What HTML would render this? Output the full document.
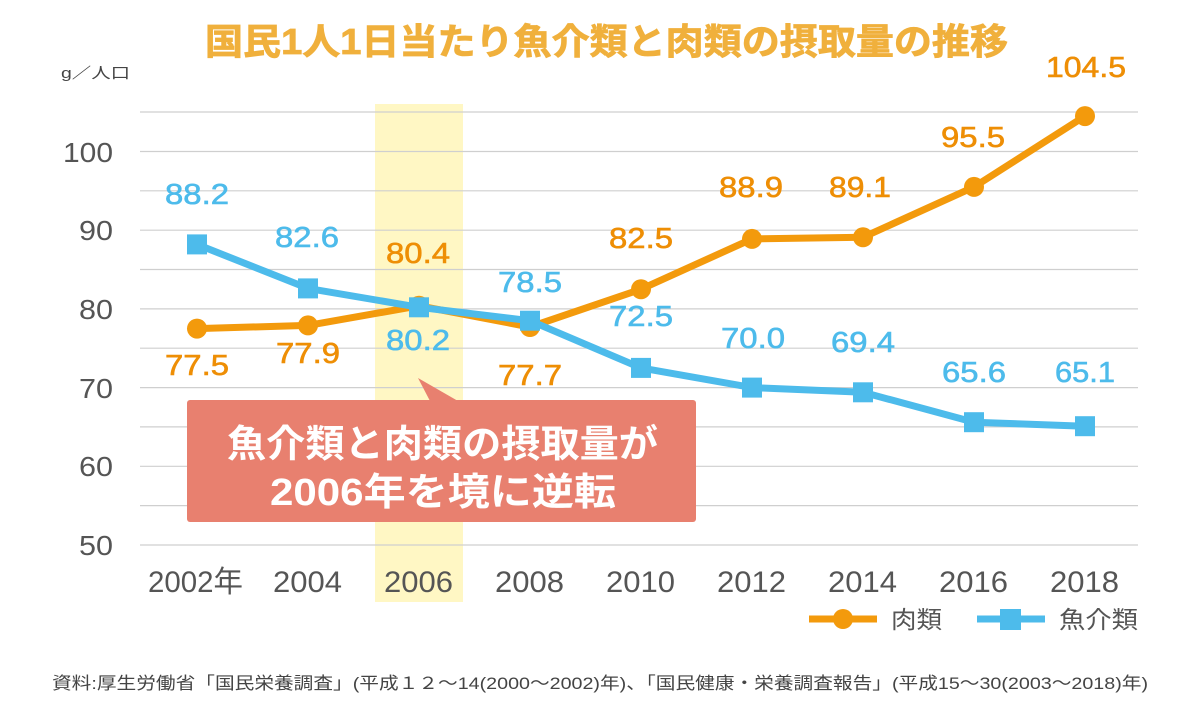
<!DOCTYPE html>
<html><head><meta charset="utf-8"><style>
html,body{margin:0;padding:0;background:#fff;}
svg{display:block;}
text{font-family:"Liberation Sans","Noto Sans CJK JP",sans-serif;}
</style></head><body>
<svg width="1200" height="720" viewBox="0 0 1200 720" xmlns="http://www.w3.org/2000/svg">
<rect x="0" y="0" width="1200" height="720" fill="#fff"/>
<!-- highlight -->
<rect x="375" y="104" width="88" height="498" fill="#FFF7C4"/>
<!-- gridlines -->
<g stroke="#cfcfcf" stroke-width="1.2">
<line x1="140" x2="1138" y1="112.0" y2="112.0"/>
<line x1="140" x2="1138" y1="151.5" y2="151.5"/>
<line x1="140" x2="1138" y1="190.8" y2="190.8"/>
<line x1="140" x2="1138" y1="230.2" y2="230.2"/>
<line x1="140" x2="1138" y1="269.5" y2="269.5"/>
<line x1="140" x2="1138" y1="308.9" y2="308.9"/>
<line x1="140" x2="1138" y1="348.2" y2="348.2"/>
<line x1="140" x2="1138" y1="387.6" y2="387.6"/>
<line x1="140" x2="1138" y1="426.9" y2="426.9"/>
<line x1="140" x2="1138" y1="466.3" y2="466.3"/>
<line x1="140" x2="1138" y1="505.6" y2="505.6"/>
<line x1="140" x2="1138" y1="545.0" y2="545.0"/>
</g>
<!-- title -->
<text x="205" y="54" font-size="36" font-weight="bold" fill="#F0B03C" stroke="#F0B03C" stroke-width="0.8" textLength="803" lengthAdjust="spacingAndGlyphs">国民1人1日当たり魚介類と肉類の摂取量の推移</text>
<text x="61" y="78" font-size="15" fill="#444" textLength="69" lengthAdjust="spacingAndGlyphs">g／人口</text>
<!-- y axis labels -->
<g font-size="28" fill="#555" text-anchor="end">
<text x="113" y="162" textLength="50" lengthAdjust="spacingAndGlyphs">100</text>
<text x="113" y="240" textLength="34" lengthAdjust="spacingAndGlyphs">90</text>
<text x="113" y="319" textLength="34" lengthAdjust="spacingAndGlyphs">80</text>
<text x="113" y="398" textLength="34" lengthAdjust="spacingAndGlyphs">70</text>
<text x="113" y="476" textLength="34" lengthAdjust="spacingAndGlyphs">60</text>
<text x="113" y="555" textLength="34" lengthAdjust="spacingAndGlyphs">50</text>
</g>
<!-- x axis labels -->
<g font-size="30" fill="#555">
<text x="148" y="592" textLength="95" lengthAdjust="spacingAndGlyphs">2002年</text>
<text x="273" y="592" textLength="69" lengthAdjust="spacingAndGlyphs">2004</text>
<text x="384" y="592" textLength="69" lengthAdjust="spacingAndGlyphs">2006</text>
<text x="495" y="592" textLength="69" lengthAdjust="spacingAndGlyphs">2008</text>
<text x="606" y="592" textLength="69" lengthAdjust="spacingAndGlyphs">2010</text>
<text x="717" y="592" textLength="69" lengthAdjust="spacingAndGlyphs">2012</text>
<text x="828" y="592" textLength="69" lengthAdjust="spacingAndGlyphs">2014</text>
<text x="939" y="592" textLength="69" lengthAdjust="spacingAndGlyphs">2016</text>
<text x="1050" y="592" textLength="69" lengthAdjust="spacingAndGlyphs">2018</text>
</g>
<!-- callout -->
<polygon points="418,378 430,401 458,401" fill="#E8806F"/>
<rect x="187" y="400" width="509" height="122" rx="3" fill="#E8806F"/>
<text x="227" y="457" font-size="38" font-weight="bold" fill="#fff" textLength="431" lengthAdjust="spacingAndGlyphs">魚介類と肉類の摂取量が</text>
<text x="270" y="505" font-size="38" font-weight="bold" fill="#fff" textLength="346" lengthAdjust="spacingAndGlyphs">2006年を境に逆転</text>
<!-- meat series -->
<polyline fill="none" stroke="#F39A0C" stroke-width="7" stroke-linejoin="round" points="197,328.6 308,325.4 419,305.8 530,327.0 641,289.2 752,238.9 863,237.3 974,186.9 1085,116.1"/>
<g fill="#F39A0C">
<circle cx="197" cy="328.6" r="10"/>
<circle cx="308" cy="325.4" r="10"/>
<circle cx="419" cy="305.8" r="10"/>
<circle cx="530" cy="327.0" r="10"/>
<circle cx="641" cy="289.2" r="10"/>
<circle cx="752" cy="238.9" r="10"/>
<circle cx="863" cy="237.3" r="10"/>
<circle cx="974" cy="186.9" r="10"/>
<circle cx="1085" cy="116.1" r="10"/>
</g>
<!-- fish series -->
<polyline fill="none" stroke="#4DBBEB" stroke-width="7" stroke-linejoin="round" points="197,244.4 308,288.4 419,307.3 530,320.7 641,367.9 752,387.6 863,392.3 974,422.2 1085,426.2"/>
<g fill="#4DBBEB">
<rect x="187" y="234.4" width="20" height="20"/>
<rect x="298" y="278.4" width="20" height="20"/>
<rect x="409" y="297.3" width="20" height="20"/>
<rect x="520" y="310.7" width="20" height="20"/>
<rect x="631" y="357.9" width="20" height="20"/>
<rect x="742" y="377.6" width="20" height="20"/>
<rect x="853" y="382.3" width="20" height="20"/>
<rect x="964" y="412.2" width="20" height="20"/>
<rect x="1075" y="416.2" width="20" height="20"/>
</g>
<!-- meat labels -->
<g font-size="29" fill="#EE8E05" stroke="#EE8E05" stroke-width="0.6" text-anchor="middle">
<text x="197" y="375" textLength="64" lengthAdjust="spacingAndGlyphs">77.5</text>
<text x="308" y="363" textLength="64" lengthAdjust="spacingAndGlyphs">77.9</text>
<text x="418" y="263" textLength="64" lengthAdjust="spacingAndGlyphs">80.4</text>
<text x="530" y="385" textLength="64" lengthAdjust="spacingAndGlyphs">77.7</text>
<text x="641" y="248" textLength="64" lengthAdjust="spacingAndGlyphs">82.5</text>
<text x="751" y="197" textLength="64" lengthAdjust="spacingAndGlyphs">88.9</text>
<text x="860" y="197" textLength="62" lengthAdjust="spacingAndGlyphs">89.1</text>
<text x="973" y="147" textLength="64" lengthAdjust="spacingAndGlyphs">95.5</text>
<text x="1086" y="77" textLength="80" lengthAdjust="spacingAndGlyphs">104.5</text>
</g>
<!-- fish labels -->
<g font-size="29" fill="#4DBBEB" stroke="#4DBBEB" stroke-width="0.6" text-anchor="middle">
<text x="197" y="204" textLength="64" lengthAdjust="spacingAndGlyphs">88.2</text>
<text x="307" y="247" textLength="64" lengthAdjust="spacingAndGlyphs">82.6</text>
<text x="418" y="350" textLength="64" lengthAdjust="spacingAndGlyphs">80.2</text>
<text x="530" y="292" textLength="64" lengthAdjust="spacingAndGlyphs">78.5</text>
<text x="641" y="326" textLength="64" lengthAdjust="spacingAndGlyphs">72.5</text>
<text x="753" y="348" textLength="64" lengthAdjust="spacingAndGlyphs">70.0</text>
<text x="863" y="352" textLength="64" lengthAdjust="spacingAndGlyphs">69.4</text>
<text x="974" y="382" textLength="64" lengthAdjust="spacingAndGlyphs">65.6</text>
<text x="1085" y="382" textLength="60" lengthAdjust="spacingAndGlyphs">65.1</text>
</g>
<!-- legend -->
<line x1="809" x2="877" y1="619" y2="619" stroke="#F39A0C" stroke-width="7"/>
<circle cx="843" cy="619" r="10" fill="#F39A0C"/>
<text x="891" y="628" font-size="24" fill="#555" textLength="51" lengthAdjust="spacingAndGlyphs">肉類</text>
<line x1="977" x2="1045" y1="619" y2="619" stroke="#4DBBEB" stroke-width="7"/>
<rect x="1000" y="609" width="21" height="21" fill="#4DBBEB"/>
<text x="1059" y="628" font-size="24" fill="#555" textLength="79" lengthAdjust="spacingAndGlyphs">魚介類</text>
<!-- footnote -->
<text x="52" y="689" font-size="17" fill="#444" textLength="1096" lengthAdjust="spacingAndGlyphs">資料:厚生労働省「国民栄養調査」(平成１２～14(2000～2002)年)、「国民健康・栄養調査報告」(平成15～30(2003～2018)年)</text>
</svg>
</body></html>
